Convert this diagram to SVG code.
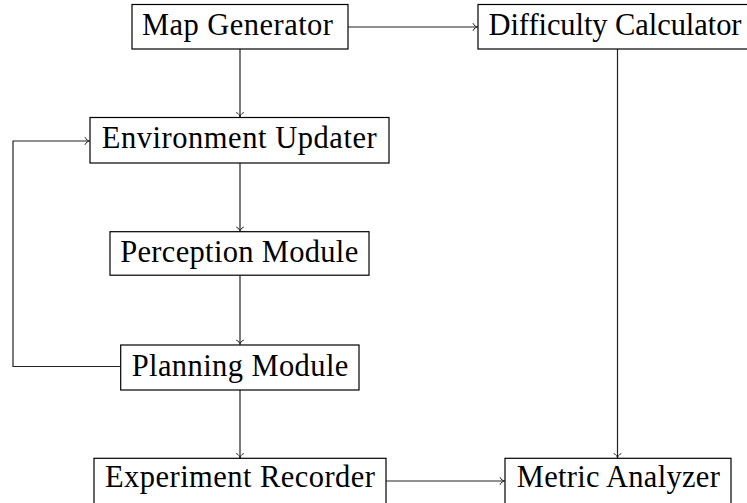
<svg xmlns="http://www.w3.org/2000/svg" width="747" height="503" viewBox="0 0 747 503">
<style>
.box{fill:#fff;stroke:#000;stroke-width:1.2}
.lbl{font-family:"Liberation Serif","DejaVu Serif",serif;font-size:30.5px;fill:#000;text-anchor:middle}
.edge{fill:none;stroke:#222;stroke-width:1.2;marker-end:url(#arr)}
</style>
<defs>
<marker id="arr" viewBox="-6 -5 8 10" refX="0" refY="0" markerWidth="8" markerHeight="10" markerUnits="userSpaceOnUse" orient="auto">
<path d="M-4.5,-3.8 C-3.5,-1.2 -1.5,-0.3 0,0 C-1.5,0.3 -3.5,1.2 -4.5,3.8" fill="none" stroke="#222" stroke-width="1"/>
</marker>
</defs>
<rect width="747" height="503" fill="#fff"/>
<g id="connectors">
<path class="edge" d="M348,27 H477.5"/>
<path class="edge" d="M240,49 V117"/>
<path class="edge" d="M240,163 V231.5"/>
<path class="edge" d="M240,275.5 V344.5"/>
<path class="edge" d="M120.5,366.5 H13 V141 H89.5"/>
<path class="edge" d="M240,390 V458"/>
<path class="edge" d="M617.5,49 V458"/>
<path class="edge" d="M386,481 H504.5"/>
</g>
<g id="map-generator">
<rect class="box" x="132" y="4.5" width="216" height="44.5"/>
<text class="lbl" x="237.5" y="35" textLength="191">Map Generator</text>
</g>
<g id="difficulty-calculator">
<rect class="box" x="478" y="4.5" width="279" height="44.5"/>
<text class="lbl" x="615" y="35" textLength="253">Difficulty Calculator</text>
</g>
<g id="environment-updater">
<rect class="box" x="90" y="117.5" width="299" height="45.5"/>
<text class="lbl" x="239.2" y="148" textLength="275">Environment Updater</text>
</g>
<g id="perception-module">
<rect class="box" x="110" y="231.7" width="259" height="43.5"/>
<text class="lbl" x="239.2" y="262" textLength="238">Perception Module</text>
</g>
<g id="planning-module">
<rect class="box" x="120.7" y="345" width="238.3" height="45"/>
<text class="lbl" x="240" y="375.5" textLength="216.7">Planning Module</text>
</g>
<g id="experiment-recorder">
<rect class="box" x="94" y="458.3" width="292" height="46"/>
<text class="lbl" x="240" y="487" textLength="270">Experiment Recorder</text>
</g>
<g id="metric-analyzer">
<rect class="box" x="505" y="458.3" width="226" height="46"/>
<text class="lbl" x="618.3" y="487" textLength="203">Metric Analyzer</text>
</g>
</svg>
